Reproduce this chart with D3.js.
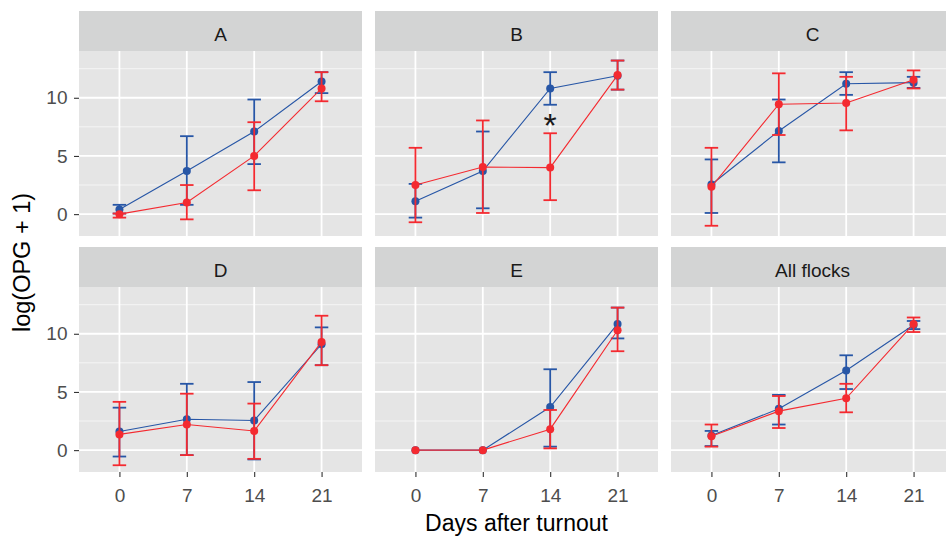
<!DOCTYPE html>
<html>
<head>
<meta charset="utf-8">
<script src="https://cdn.jsdelivr.net/npm/d3@7"></script>
<style>
  html, body { margin: 0; padding: 0; background: #ffffff; }
  svg { display: block; font-family: "Liberation Sans", Arial, sans-serif; }
</style>
</head>
<body>
<svg id="chart" width="946" height="538"></svg>
<script>
// ---------------- data ----------------
const days = [0, 7, 14, 21];
const panels = ["A", "B", "C", "D", "E", "All flocks"];
const yTicks = [0, 5, 10];
const yMinorTicks = [2.5, 7.5, 12.5];

// blue series (per panel, per day)
const blueMean = [
  [0.4, 3.7, 7.1, 11.4],
  [1.1, 3.7, 10.8, 11.9],
  [2.55, 7.15, 11.2, 11.3],
  [1.6, 2.65, 2.55, 9.1],
  [0, 0, 3.7, 10.85],
  [1.25, 3.55, 6.85, 10.75]
];
const blueLow = [
  [0.05, 0.8, 4.3, 10.4],
  [-0.3, 0.5, 9.4, 10.7],
  [0.1, 4.45, 10.25, 10.85],
  [-0.55, -0.43, -0.8, 7.3],
  [null, null, 0.3, 9.6],
  [0.35, 2.2, 5.25, 10.4]
];
const blueHigh = [
  [0.8, 6.7, 9.85, 12.2],
  [2.6, 7.1, 12.2, 13.2],
  [4.7, 9.85, 12.2, 11.8],
  [3.65, 5.7, 5.85, 10.55],
  [null, null, 6.95, 12.25],
  [1.65, 4.75, 8.15, 11.1]
];

// red series (per panel, per day)
const redMean = [
  [0.0, 1.0, 5.0, 10.8],
  [2.5, 4.05, 4.0, 11.95],
  [2.35, 9.45, 9.55, 11.55],
  [1.35, 2.2, 1.65, 9.3],
  [0, 0, 1.8, 10.3],
  [1.2, 3.35, 4.45, 10.85]
];
const redLow = [
  [-0.3, -0.45, 2.05, 9.7],
  [-0.7, 0.1, 1.2, 10.7],
  [-1.0, 6.8, 7.2, 10.8],
  [-1.3, -0.43, -0.75, 7.3],
  [null, null, 0.15, 8.5],
  [0.3, 1.9, 3.25, 10.15]
];
const redHigh = [
  [0.05, 2.5, 7.9, 12.2],
  [5.7, 8.05, 6.95, 13.2],
  [5.7, 12.1, 11.8, 12.35],
  [4.15, 4.85, 4.0, 11.55],
  [null, null, 3.45, 12.25],
  [2.2, 4.65, 5.7, 11.4]
];

// significance annotation
const sigPanel = ["B"];
const sigDay = [14];
const sigValue = [8.3];
const sigLabel = ["*"];

const xTitle = "Days after turnout";
const yTitle = "log(OPG + 1)";

// ---------------- layout ----------------
const colLeft = [79, 375, 671];
const panelW = 283;
const rowTop = [11, 247];
const stripH = 40;
const plotH = 185;
const yDomain = [-1.88, 14.02];

const colors = { blue: "#2756A6", red: "#F42A30" };
const svg = d3.select("#chart");

const series = [
  { name: "blue", mean: blueMean, low: blueLow, high: blueHigh, color: colors.blue },
  { name: "red", mean: redMean, low: redLow, high: redHigh, color: colors.red }
];

panels.forEach((name, pi) => {
  const col = pi % 3, row = Math.floor(pi / 3);
  const left = colLeft[col];
  const sTop = rowTop[row];
  const pTop = sTop + stripH;
  const pBot = pTop + plotH;

  const x = d3.scalePoint().domain(days).range([left, left + panelW]).padding(0.6);
  const y = d3.scaleLinear().domain(yDomain).range([pBot, pTop]);

  const g = svg.append("g");

  // panel background
  g.append("rect").attr("x", left).attr("y", pTop).attr("width", panelW).attr("height", plotH)
    .attr("fill", "#e5e5e5");

  // minor grid
  g.selectAll(".ymin").data(yMinorTicks).join("line")
    .attr("x1", left).attr("x2", left + panelW)
    .attr("y1", d => y(d)).attr("y2", d => y(d))
    .attr("stroke", "#f7f7f7").attr("stroke-width", 0.9);
  // major grid
  g.selectAll(".ymaj").data(yTicks).join("line")
    .attr("x1", left).attr("x2", left + panelW)
    .attr("y1", d => y(d)).attr("y2", d => y(d))
    .attr("stroke", "#ffffff").attr("stroke-width", 1.8);
  g.selectAll(".xmaj").data(days).join("line")
    .attr("x1", d => x(d)).attr("x2", d => x(d))
    .attr("y1", pTop).attr("y2", pBot)
    .attr("stroke", "#ffffff").attr("stroke-width", 1.8);

  // strip
  g.append("rect").attr("x", left).attr("y", sTop).attr("width", panelW).attr("height", stripH)
    .attr("fill", "#d3d4d4");
  g.append("text").attr("x", left + panelW / 2).attr("y", sTop + 29.5)
    .attr("text-anchor", "middle").attr("font-size", 19).attr("fill", "#1a1a1a")
    .text(name);

  // series
  const capHalf = x.step() * 0.1;
  series.forEach(s => {
    const pts = days.map((d, i) => ({ day: d, v: s.mean[pi][i], lo: s.low[pi][i], hi: s.high[pi][i] }));
    const line = d3.line().x(d => x(d.day)).y(d => y(d.v));
    g.append("path").datum(pts).attr("d", line)
      .attr("fill", "none").attr("stroke", s.color).attr("stroke-width", 1.1);

    const eb = pts.filter(d => d.lo != null && d.hi != null);
    const ebG = g.append("g").attr("stroke", s.color).attr("stroke-width", 1.8).attr("fill", "none");
    ebG.selectAll(".v").data(eb).join("line")
      .attr("x1", d => x(d.day)).attr("x2", d => x(d.day))
      .attr("y1", d => y(d.lo)).attr("y2", d => y(d.hi));
    ebG.selectAll(".lo").data(eb).join("line")
      .attr("x1", d => x(d.day) - capHalf).attr("x2", d => x(d.day) + capHalf)
      .attr("y1", d => y(d.lo)).attr("y2", d => y(d.lo));
    ebG.selectAll(".hi").data(eb).join("line")
      .attr("x1", d => x(d.day) - capHalf).attr("x2", d => x(d.day) + capHalf)
      .attr("y1", d => y(d.hi)).attr("y2", d => y(d.hi));

    g.selectAll(".pt-" + s.name).data(pts).join("circle")
      .attr("cx", d => x(d.day)).attr("cy", d => y(d.v)).attr("r", 4)
      .attr("fill", s.color);
  });

  // significance marks
  sigPanel.forEach((p, k) => {
    if (p !== name) return;
    const fs = 34;
    g.append("text").attr("x", x(sigDay[k])).attr("y", y(sigValue[k]) + fs * 0.57)
      .attr("text-anchor", "middle").attr("font-size", fs).attr("fill", "#1a1a1a")
      .text(sigLabel[k]);
  });

  // axes
  if (col === 0) {
    const ax = d3.axisLeft(y).tickValues(yTicks).tickSize(5).tickPadding(6.5);
    const a = svg.append("g").attr("transform", `translate(${left},0)`).call(ax);
    a.select(".domain").remove();
    a.selectAll("line").attr("stroke", "#333333").attr("stroke-width", 1.1);
    a.selectAll("text").attr("fill", "#4d4d4d").attr("font-size", 19)
      .attr("font-family", "Liberation Sans, Arial, sans-serif");
  }
  if (row === 1) {
    const ax = d3.axisBottom(x).tickSize(5).tickPadding(12);
    const a = svg.append("g").attr("transform", `translate(0,${pBot})`).call(ax);
    a.select(".domain").remove();
    a.selectAll("line").attr("stroke", "#333333").attr("stroke-width", 1.1);
    a.selectAll("text").attr("fill", "#4d4d4d").attr("font-size", 19)
      .attr("font-family", "Liberation Sans, Arial, sans-serif");
  }
});

// axis titles
svg.append("text").attr("x", (colLeft[0] + colLeft[2] + panelW) / 2).attr("y", 531)
  .attr("text-anchor", "middle").attr("font-size", 23).attr("fill", "#000000")
  .text(xTitle);
svg.append("text").attr("transform", "translate(30,262.5) rotate(-90)")
  .attr("text-anchor", "middle").attr("font-size", 23.5).attr("fill", "#000000")
  .text(yTitle);
</script>
</body>
</html>
